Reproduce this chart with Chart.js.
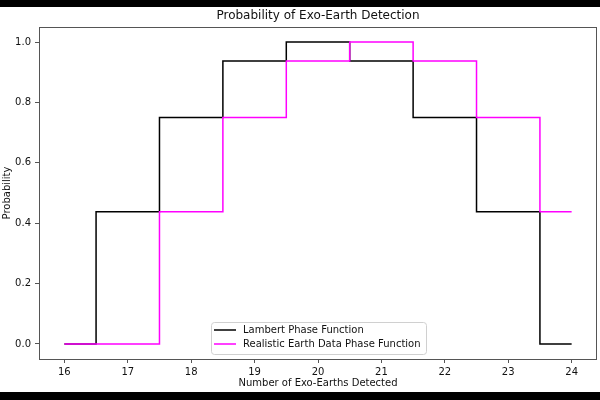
<!DOCTYPE html>
<html>
<head>
<meta charset="utf-8">
<script src="https://cdn.jsdelivr.net/npm/chart.js@4"></script>
<style>
  html, body { margin: 0; padding: 0; background: #000; }
  #wrap { position: absolute; left: 0; top: 7px; width: 600px; height: 385px; background: #fff; }
</style>
</head>
<body>
<div id="wrap"><canvas id="chart" width="600" height="385"></canvas></div>
<script>
// data (step plot, steps at the midpoints)
const detected = [16, 17, 18, 19, 20, 21, 22, 23, 24];
const lambertProb = [0, 0.4375, 0.75, 0.9375, 1.0, 0.9375, 0.75, 0.4375, 0];
const realisticProb = [0, 0, 0.4375, 0.75, 0.9375, 1.0, 0.9375, 0.75, 0.4375];
const xTicks = [16, 17, 18, 19, 20, 21, 22, 23, 24];
const yTicks = [0, 0.2, 0.4, 0.6, 0.8, 1.0];

const titleText = "Probability of Exo-Earth Detection";
const xLabel = "Number of Exo-Earths Detected";
const yLabel = "Probability";

const FONT = "'DejaVu Sans', sans-serif";

const toPoints = vals => detected.map((x, i) => ({ x, y: vals[i] }));

// frame, titles and legend, drawn like matplotlib does
const decorations = {
  id: "decorations",
  afterDatasetsDraw(chart) {
    const { ctx, chartArea: a } = chart;
    ctx.save();
    ctx.strokeStyle = "#555";
    ctx.lineWidth = 1;
    ctx.strokeRect(a.left + 0.5, a.top + 0.5, a.right - a.left - 1, a.bottom - a.top);
    ctx.restore();
  },
  afterDraw(chart) {
    const { ctx, chartArea: a } = chart;
    ctx.save();
    ctx.fillStyle = "#111";
    ctx.textAlign = "center";
    ctx.textBaseline = "middle";

    ctx.font = "12px " + FONT;
    ctx.fillText(titleText, (a.left + a.right) / 2, 9);

    ctx.font = "10px " + FONT;
    ctx.fillText(xLabel, (a.left + a.right) / 2, 376);

    ctx.save();
    ctx.translate(7, (a.top + a.bottom) / 2);
    ctx.rotate(-Math.PI / 2);
    ctx.fillText(yLabel, 0, 0);
    ctx.restore();

    // legend box
    const lx = 211, ly = 315, lw = 215, lh = 32;
    ctx.beginPath();
    ctx.roundRect(lx + 0.5, ly + 0.5, lw, lh, 3);
    ctx.fillStyle = "rgba(255,255,255,0.8)";
    ctx.fill();
    ctx.strokeStyle = "#d0d0d0";
    ctx.stroke();

    ctx.textAlign = "left";
    ctx.font = "10px " + FONT;
    chart.data.datasets.forEach((ds, i) => {
      const y = ly + 8 + i * 14;
      ctx.beginPath();
      ctx.moveTo(214, y);
      ctx.lineTo(236, y);
      ctx.strokeStyle = ds.borderColor;
      ctx.lineWidth = 1.5;
      ctx.stroke();
      ctx.fillStyle = "#111";
      ctx.fillText(ds.label, 243, y);
    });
    ctx.restore();
  }
};

new Chart(document.getElementById("chart"), {
  type: "line",
  data: {
    datasets: [
      {
        label: "Lambert Phase Function",
        data: toPoints(lambertProb),
        borderColor: "#000000",
        borderWidth: 1.5,
        stepped: "middle",
        pointRadius: 0,
        fill: false,
        order: 1
      },
      {
        label: "Realistic Earth Data Phase Function",
        data: toPoints(realisticProb),
        borderColor: "#ff00ff",
        borderWidth: 1.5,
        stepped: "middle",
        pointRadius: 0,
        fill: false,
        order: 0
      }
    ]
  },
  options: {
    responsive: false,
    animation: false,
    layout: { padding: { top: 20, right: 3, left: 0, bottom: 0 } },
    plugins: {
      legend: { display: false },
      title: { display: false },
      tooltip: { enabled: false }
    },
    scales: {
      x: {
        type: "linear",
        min: 15.6,
        max: 24.4,
        afterFit: s => { s.height = 33; },
        afterBuildTicks: s => { s.ticks = xTicks.map(v => ({ value: v })); },
        grid: { drawOnChartArea: false, drawTicks: true, tickLength: 4, color: "#555" },
        border: { display: false },
        ticks: { padding: 3, color: "#111", font: { family: FONT, size: 10 }, maxRotation: 0, callback: v => String(v) }
      },
      y: {
        type: "linear",
        min: -0.05,
        max: 1.05,
        afterFit: s => { s.width = 39; },
        afterBuildTicks: s => { s.ticks = yTicks.map(v => ({ value: v })); },
        grid: { drawOnChartArea: false, drawTicks: true, tickLength: 4, color: "#555" },
        border: { display: false },
        ticks: { padding: 4, color: "#111", font: { family: FONT, size: 10 }, callback: v => v.toFixed(1) }
      }
    }
  },
  plugins: [decorations]
});
</script>
</body>
</html>
